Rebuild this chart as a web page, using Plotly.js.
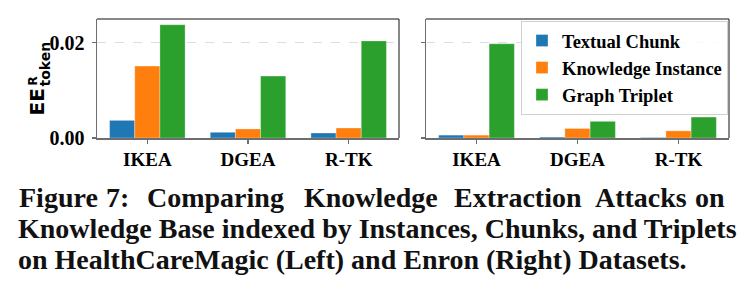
<!DOCTYPE html>
<html><head><meta charset="utf-8">
<script src="https://cdn.plot.ly/plotly-3.0.1.min.js"></script>
<style>html,body{margin:0;padding:0;background:#fff}#c{width:752px;height:292px}</style>
</head><body><div id="c"></div>
<script>
const categories = ['IKEA', 'DGEA', 'R-TK'];
const seriesNames = ['Textual Chunk', 'Knowledge Instance', 'Graph Triplet'];
const leftChunk = [0.0037, 0.0012, 0.00105];
const leftInstance = [0.0151, 0.0019, 0.0021];
const leftTriplet = [0.0238, 0.0130, 0.0204];
const rightChunk = [0.0006, 0.0002, 0.0001];
const rightInstance = [0.0006, 0.0020, 0.0015];
const rightTriplet = [0.0198, 0.0035, 0.0044];
const yTicks = [0, 0.02];
const colors = ['#1f77b4', '#ff7f0e', '#2ca02c'];
const captionLine1 = ['Figure', '7:', 'Comparing', 'Knowledge', 'Extraction', 'Attacks', 'on'];
const captionLine2 = 'Knowledge Base indexed by Instances, Chunks, and Triplets';
const captionLine3 = 'on HealthCareMagic (Left) and Enron (Right) Datasets.';

const W = 752, H = 292;
const px = x => x / W, py = y => 1 - y / H;
const serif = 'Liberation Serif, Times New Roman, serif';
const sans = 'DejaVu Sans, sans-serif';

const leftSets = [leftChunk, leftInstance, leftTriplet];
const rightSets = [rightChunk, rightInstance, rightTriplet];
const data = [];
leftSets.forEach((v, i) => data.push({type: 'bar', x: categories, y: v, name: seriesNames[i], xaxis: 'x', yaxis: 'y',
  marker: {color: colors[i], line: {color: 'rgba(255,255,255,0.6)', width: 0.5}}, legendgroup: 's' + i}));
rightSets.forEach((v, i) => data.push({type: 'bar', x: categories, y: v, name: seriesNames[i], xaxis: 'x2', yaxis: 'y2',
  marker: {color: colors[i], line: {color: 'rgba(255,255,255,0.6)', width: 0.5}}, legendgroup: 's' + i, showlegend: false}));

const spineGray = '#6e6e6e';
const xax = d => ({domain: d, range: [-0.5, 2.5], type: 'category', showline: true, linecolor: spineGray, linewidth: 1.5,
  ticks: 'outside', ticklen: 4, tickwidth: 1.2, tickcolor: spineGray, showgrid: false, zeroline: false,
  tickfont: {family: serif, size: 19, color: '#000', weight: 'bold'}, fixedrange: true});
const yax = (anchor, labels) => ({domain: [py(138), py(19)], range: [0, 0.025], anchor: anchor, tickvals: yTicks, tickformat: '.2f',
  showticklabels: labels, showline: true, linecolor: spineGray, linewidth: 1.5, ticks: 'outside', ticklen: 4, tickwidth: 1.2,
  tickcolor: spineGray, showgrid: true, gridcolor: '#dddddd', griddash: 'dash', gridwidth: 1, zeroline: false, ticklabelstandoff: 3,
  tickfont: {family: serif, size: 20, color: '#000', weight: 'bold'}, fixedrange: true});

const shapes = [];
[['x', 'y'], ['x2', 'y2']].forEach(([xa, ya]) => {
  shapes.push({type: 'line', xref: xa + ' domain', yref: ya + ' domain', x0: 0, x1: 1, y0: 1, y1: 1, line: {color: '#111', width: 1}});
  shapes.push({type: 'line', xref: xa + ' domain', yref: ya + ' domain', x0: 1, x1: 1, y0: 0, y1: 1, line: {color: '#111', width: 1}});
});

const cap = {family: serif, size: 28, color: '#111', weight: 'bold'};
const annotations = [];
const line1X = [17, 104, 145, 302, 452, 593, 693];
captionLine1.forEach((t, i) => annotations.push({text: t, xref: 'paper', yref: 'paper', x: px(line1X[i]), y: py(197), xanchor: 'left', yanchor: 'middle', showarrow: false, font: cap}));
annotations.push({text: captionLine2, xref: 'paper', yref: 'paper', x: px(16), y: py(228), xanchor: 'left', yanchor: 'middle', showarrow: false, font: cap});
annotations.push({text: captionLine3, xref: 'paper', yref: 'paper', x: px(16), y: py(259), xanchor: 'left', yanchor: 'middle', showarrow: false, font: cap});
// y-axis title EE^R_token
annotations.push({text: 'EE', textangle: -90, xref: 'paper', yref: 'paper', x: px(36), y: py(118), xanchor: 'center', yanchor: 'bottom', showarrow: false, font: {family: sans, size: 20, color: '#000', weight: 'bold'}});
annotations.push({text: 'R', textangle: -90, xref: 'paper', yref: 'paper', x: px(32), y: py(88), xanchor: 'center', yanchor: 'bottom', showarrow: false, font: {family: sans, size: 12, color: '#000', weight: 'bold'}});
annotations.push({text: 'token', textangle: -90, xref: 'paper', yref: 'paper', x: px(44), y: py(89), xanchor: 'center', yanchor: 'bottom', showarrow: false, font: {family: sans, size: 14, color: '#000', weight: 'bold'}});

const layout = {
  width: W, height: H, margin: {l: 0, r: 0, t: 0, b: 0}, paper_bgcolor: '#fff', plot_bgcolor: '#fff',
  barmode: 'group', bargap: 0.25, bargroupgap: 0,
  xaxis: xax([px(97), px(399)]), yaxis: yax('x', true),
  xaxis2: Object.assign(xax([px(426), px(729)]), {anchor: 'y2'}), yaxis2: yax('x2', false),
  showlegend: true,
  legend: {x: px(521), y: py(21), xanchor: 'left', yanchor: 'top', bgcolor: 'rgba(255,255,255,0.85)', bordercolor: '#d0d0d0', borderwidth: 1,
    font: {family: serif, size: 18.5, color: '#000', weight: 'bold'}, tracegroupgap: 0, itemwidth: 30},
  shapes: shapes, annotations: annotations
};
Plotly.newPlot('c', data, layout, {displayModeBar: false, staticPlot: true});
</script></body></html>
